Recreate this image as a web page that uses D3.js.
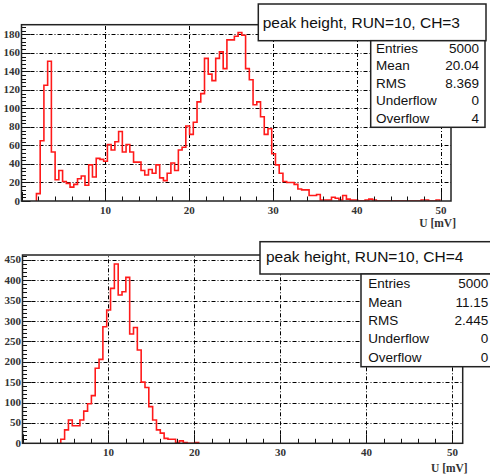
<!DOCTYPE html>
<html>
<head>
<meta charset="utf-8">
<script src="https://d3js.org/d3.v7.min.js"></script>
<style>
  body { margin: 0; background: #ffffff; }
  .tlabel { font-family: "Liberation Serif", "DejaVu Serif", serif; font-size: 11px; font-weight: bold; fill: #333; }
  .xtitle { font-family: "Liberation Serif", "DejaVu Serif", serif; font-size: 11.5px; font-weight: bold; fill: #333; }
  .box text { font-family: "Liberation Sans", Arial, sans-serif; fill: #111; }
</style>
</head>
<body>
<script>
// binning shared by both histograms
var xMin = 0, xMax = 51.2, nBins = 115;
var xTicks = [10, 20, 30, 40, 50];

// peak height, RUN=10, CH=3 (counts from first filled bin on)
var ch3First = 4;
var ch3Counts = [8, 65, 125, 151, 53, 23, 33, 21, 19, 15, 18, 24, 27, 17, 39, 26, 46, 45, 43,
  61, 55, 64, 75, 53, 61, 53, 42, 42, 33, 28, 34, 30, 39, 25, 22, 30, 41, 33, 55, 58, 81,
  72, 85, 107, 116, 154, 137, 130, 154, 161, 143, 174, 174, 178, 182, 179, 143, 131, 104, 107, 91, 72, 78, 51, 39,
  30, 21, 20, 20, 18, 13, 12, 12, 6, 6, 7, 1, 1, 1, 4, 3, 1, 6, 2, 1, 1, 0, 0, 1, 2, 1,
  0, 0, 0, 0, 0, 0, 0, 0, 0, 0, 0, 0, 1, 1, 0, 0, 1];
var ch3YMax = 190.4;
var ch3YTicks = [0, 20, 40, 60, 80, 100, 120, 140, 160, 180];
var ch3Stats = ["5000", "20.04", "8.369", "0", "4"];

// peak height, RUN=10, CH=4
var ch4First = 10;
var ch4Counts = [10, 33, 57, 43, 43, 57, 79, 97, 117, 184, 206, 286, 327, 380, 440, 364, 372, 407,
  268, 284, 229, 150, 137, 90, 57, 33, 25, 12, 10, 10, 2, 6, 2, 0, 0, 2];
var ch4YMax = 462;
var ch4YTicks = [0, 50, 100, 150, 200, 250, 300, 350, 400, 450];
var ch4Stats = ["5000", "11.15", "2.445", "0", "0"];

var statLabels = ["Entries", "Mean", "RMS", "Underflow", "Overflow"];

var W = 490, H = 476;
var svg = d3.select("body").append("svg").attr("width", W).attr("height", H);

var panels = [
  { name: "peak height, RUN=10, CH=3", first: ch3First, counts: ch3Counts, yMax: ch3YMax, yTicks: ch3YTicks, stats: ch3Stats,
    left: 21.5, right: 451, top: 24.7, bottom: 201,
    title: { x: 258.3, y: 4, w: 227.7, h: 36.7, tx: 262.7, ty: 27.5, size: 15.5 },
    box: { x: 370.7, y: 40.7, w: 114.3, h: 86.6, lx: 376, rx: 479, y0: 53, dy: 17.4 },
    xt: 227 },
  { name: "peak height, RUN=10, CH=4", first: ch4First, counts: ch4Counts, yMax: ch4YMax, yTicks: ch4YTicks, stats: ch4Stats,
    left: 22.5, right: 462.7, top: 255, bottom: 443.3,
    title: { x: 260, y: 241.7, w: 240, h: 32.3, tx: 266, ty: 262, size: 15.5 },
    box: { x: 361, y: 274, w: 140, h: 92.7, lx: 368.3, rx: 488.3, y0: 288.3, dy: 18.3 },
    xt: 472 }
];

var binW = (xMax - xMin) / nBins;

panels.forEach(function(p, k) {
  var x = d3.scaleLinear().domain([xMin, xMax]).range([p.left, p.right]);
  var y = d3.scaleLinear().domain([0, p.yMax]).range([p.bottom, p.top]);
  var g = svg.append("g");

  g.append("clipPath").attr("id", "clip" + k)
    .append("rect").attr("x", p.left).attr("y", p.top)
    .attr("width", p.right - p.left).attr("height", p.bottom - p.top);

  // grid
  var grid = g.append("g").attr("stroke", "#000").attr("stroke-width", 1)
    .attr("stroke-dasharray", "4,2,1,2");
  grid.selectAll(".gx").data(xTicks).enter().append("line")
    .attr("x1", function(d) { return Math.round(x(d)) + 0.5; })
    .attr("x2", function(d) { return Math.round(x(d)) + 0.5; })
    .attr("y1", p.bottom).attr("y2", p.top);
  grid.selectAll(".gy").data(p.yTicks.filter(function(d) { return d > 0; })).enter().append("line")
    .attr("y1", function(d) { return Math.round(y(d)) + 0.5; })
    .attr("y2", function(d) { return Math.round(y(d)) + 0.5; })
    .attr("x1", p.left).attr("x2", p.right);

  // histogram outline
  var pts = [[xMin + p.first * binW, 0]];
  p.counts.forEach(function(c, i) {
    var e = xMin + (p.first + i) * binW;
    pts.push([e, c]);
    pts.push([e + binW, c]);
  });
  pts.push([xMin + (p.first + p.counts.length) * binW, 0]);
  var line = d3.line().x(function(d) { return x(d[0]); }).y(function(d) { return y(d[1]); });
  g.append("path").attr("d", line(pts))
    .attr("fill", "none").attr("stroke", "#ff1a1a").attr("stroke-width", 1.6)
    .attr("stroke-linejoin", "miter")
    .attr("clip-path", "url(#clip" + k + ")");

  // ticks
  var yStep = p.yTicks[1] - p.yTicks[0];
  var ticks = g.append("g").attr("stroke", "#111").attr("stroke-width", 1);
  d3.range(0, p.yMax, yStep / 5).forEach(function(v, i) {
    var yy = Math.round(y(v)) + 0.5;
    ticks.append("line").attr("x1", p.left).attr("x2", p.left + (i % 5 === 0 ? 9 : 4.5))
      .attr("y1", yy).attr("y2", yy);
  });
  d3.range(0, xMax, 2).forEach(function(v, i) {
    var xx = Math.round(x(v)) + 0.5;
    ticks.append("line").attr("y1", p.bottom).attr("y2", p.bottom - (i % 5 === 0 ? 9 : 4.5))
      .attr("x1", xx).attr("x2", xx);
  });

  // frame
  g.append("rect").attr("x", p.left).attr("y", p.top)
    .attr("width", p.right - p.left).attr("height", p.bottom - p.top)
    .attr("fill", "none").attr("stroke", "#222").attr("stroke-width", 1.5);

  // tick labels
  g.selectAll(".yl").data(p.yTicks).enter().append("text").attr("class", "tlabel")
    .attr("x", p.left - 1.5).attr("y", function(d) { return y(d); })
    .attr("dy", "0.32em").attr("text-anchor", "end")
    .text(function(d) { return d; });
  g.selectAll(".xl").data(xTicks).enter().append("text").attr("class", "tlabel")
    .attr("x", function(d) { return x(d); }).attr("y", p.bottom + 13)
    .attr("text-anchor", "middle")
    .text(function(d) { return d; });
  g.append("text").attr("class", "xtitle")
    .attr("x", p.right + 5).attr("y", p.xt).attr("text-anchor", "end")
    .text("U  [mV]");

  // title box
  var tb = g.append("g").attr("class", "box");
  tb.append("rect").attr("x", p.title.x).attr("y", p.title.y)
    .attr("width", p.title.w).attr("height", p.title.h)
    .attr("fill", "#fff").attr("stroke", "#222").attr("stroke-width", 1.5);
  tb.append("text").attr("x", p.title.tx).attr("y", p.title.ty)
    .style("font-size", p.title.size + "px").text(p.name);

  // stats box
  var sb = g.append("g").attr("class", "box");
  sb.append("rect").attr("x", p.box.x).attr("y", p.box.y)
    .attr("width", p.box.w).attr("height", p.box.h)
    .attr("fill", "#fff").attr("stroke", "#222").attr("stroke-width", 1.5);
  statLabels.forEach(function(s, i) {
    sb.append("text").attr("x", p.box.lx).attr("y", p.box.y0 + i * p.box.dy)
      .style("font-size", "13.5px").text(s);
    sb.append("text").attr("x", p.box.rx).attr("y", p.box.y0 + i * p.box.dy)
      .attr("text-anchor", "end").style("font-size", "13.5px").text(p.stats[i]);
  });
});
</script>
</body>
</html>
